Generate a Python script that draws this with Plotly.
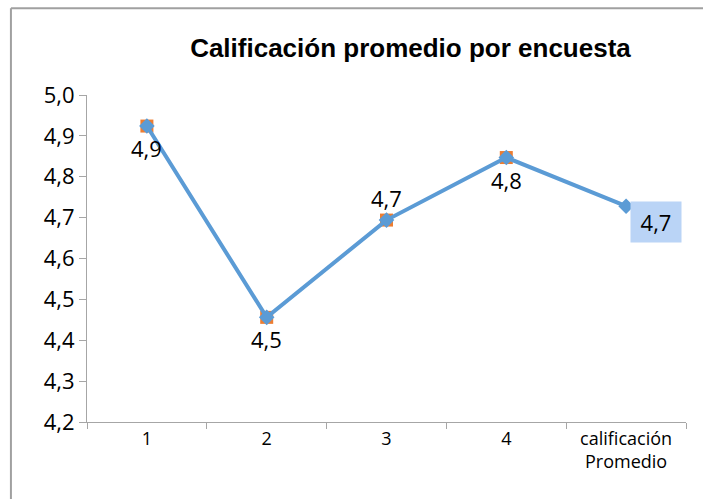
import plotly.graph_objects as go

categories = ["1", "2", "3", "4", "calificación<br>Promedio"]
survey_values = [4.924, 4.456, 4.694, 4.847]
line_values = [4.924, 4.456, 4.694, 4.847, 4.728]
label_above = [False, False, True, False]
y_ticks = [4.2, 4.3, 4.4, 4.5, 4.6, 4.7, 4.8, 4.9, 5.0]

BLUE = "#5B9BD5"
ORANGE = "#ED7D31"
GRAY = "#A6A6A6"


def fmt(v):
    return f"{v:.1f}".replace(".", ",")


fig = go.Figure()

fig.add_trace(go.Scatter(
    x=categories[:4], y=survey_values, mode="markers",
    marker=dict(symbol="square", size=13, color=ORANGE),
    showlegend=False, hoverinfo="skip",
))

fig.add_trace(go.Scatter(
    x=categories, y=line_values, mode="lines+markers",
    line=dict(color=BLUE, width=4),
    marker=dict(symbol="diamond", size=12, color=BLUE),
    showlegend=False,
))

for i, (v, above) in enumerate(zip(line_values[:4], label_above)):
    fig.add_annotation(
        x=i, y=v, text=fmt(v), showarrow=False,
        xanchor="center", yanchor="middle", yshift=22 if above else -22,
        font=dict(family="Open Sans", size=22, color="#000000"),
    )

fig.add_annotation(
    x=len(categories) - 1, y=line_values[-1],
    text=fmt(line_values[-1]),
    showarrow=False, xanchor="center", yanchor="middle",
    xshift=30, yshift=-16,
    font=dict(family="Open Sans", size=22, color="#000000"),
    bgcolor="#BAD4F6", borderpad=5, width=40,
)

# outer chart border (left and top edges are visible in the frame)
fig.add_shape(type="line", xref="paper", yref="paper",
              x0=-0.127, x1=1.2, y0=1.265, y1=1.265,
              line=dict(color="#A0A0A0", width=2))
fig.add_shape(type="line", xref="paper", yref="paper",
              x0=-0.127, x1=-0.127, y0=-0.4, y1=1.265,
              line=dict(color="#A0A0A0", width=2))

fig.update_layout(
    width=703, height=499,
    margin=dict(l=87, r=17, t=95, b=77),
    paper_bgcolor="white", plot_bgcolor="white",
    separators=",.",
    title=dict(
        text="<b>Calificación promedio por encuesta</b>",
        x=0.54, xref="paper", xanchor="center",
        y=1 - 48 / 499, yref="container", yanchor="middle",
        font=dict(family="Liberation Sans", size=26, color="#000000"),
    ),
    xaxis=dict(
        type="category", range=[-0.5, 4.5],
        showline=True, linecolor=GRAY, linewidth=1,
        ticks="outside", tickson="boundaries", ticklen=6, tickcolor=GRAY,
        showgrid=False, zeroline=False,
        tickfont=dict(family="Open Sans", size=18, color="#000000"),
    ),
    yaxis=dict(
        range=[4.2, 5.0], tickvals=y_ticks, tickformat=".1f",
        showline=True, linecolor=GRAY, linewidth=1,
        ticks="outside", ticklen=7, tickcolor=GRAY,
        showgrid=False, zeroline=False,
        tickfont=dict(family="Open Sans", size=22, color="#000000"),
    ),
)

fig.write_html(
    "out.html",
    config={"displayModeBar": False},
    post_script="document.body.style.margin='0';",
)
